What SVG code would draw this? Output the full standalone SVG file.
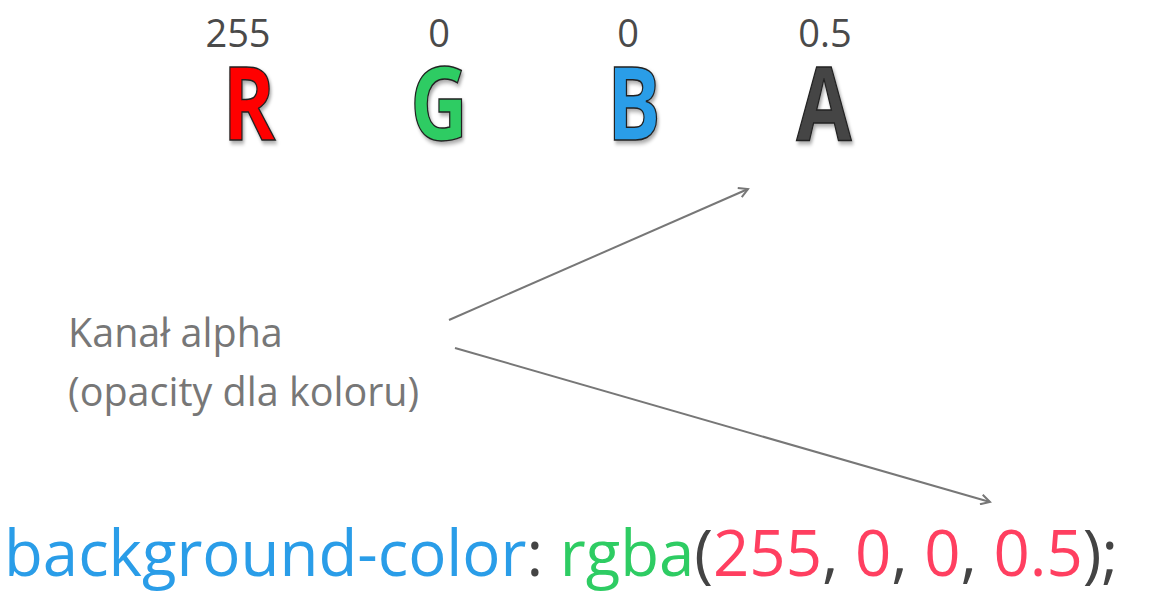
<svg xmlns="http://www.w3.org/2000/svg" width="1152" height="595" viewBox="0 0 1152 595">
<defs>
<style>
.num{font-family:"Open Sans","Noto Sans",sans-serif;font-size:38px;fill:#4a4a4a;text-anchor:middle}
.big{font-family:"Open Sans","Noto Sans",sans-serif;font-weight:bold;font-size:102px;text-anchor:middle;stroke:#222;stroke-width:1.5px;filter:url(#sh)}
.lbl{font-family:"Open Sans","Noto Sans",sans-serif;font-size:39.5px;fill:#777}
.code{font-family:"Open Sans","Noto Sans",sans-serif;font-size:63.5px}
.conn{stroke:#777;stroke-width:2;fill:none;marker-end:url(#ah)}
</style>
<filter id="sh" x="-20%" y="-20%" width="150%" height="150%">
<feDropShadow dx="2" dy="3" stdDeviation="2" flood-color="#000" flood-opacity="0.35"/>
</filter>
<marker id="ah" viewBox="0 0 12 12" refX="10" refY="6" markerWidth="12" markerHeight="12" markerUnits="userSpaceOnUse" orient="auto">
<path d="M1,1 L10,6 L1,11" fill="none" stroke="#777" stroke-width="2"/>
</marker>
</defs>
<rect width="1152" height="595" fill="#fff"/>
<g id="channel-r">
<text class="num" x="238" y="47">255</text>
<text class="big" transform="translate(249,140) scale(0.78,1)" fill="#ff0000">R</text>
</g>
<g id="channel-g">
<text class="num" x="439" y="47">0</text>
<text class="big" transform="translate(439,140) scale(0.78,1)" fill="#2ecc63">G</text>
</g>
<g id="channel-b">
<text class="num" x="628" y="47">0</text>
<text class="big" transform="translate(634,140) scale(0.78,1)" fill="#2a9de8">B</text>
</g>
<g id="channel-a">
<text class="num" x="825" y="47">0.5</text>
<text class="big" transform="translate(824,140) scale(0.78,1)" fill="#444444">A</text>
</g>
<g id="label">
<text class="lbl" x="68" y="347">Kanał alpha</text>
<text class="lbl" x="68" y="406">(opacity dla koloru)</text>
</g>
<g id="connectors">
<line class="conn" x1="449" y1="320" x2="748" y2="189"/>
<line class="conn" x1="455" y1="348" x2="990" y2="502"/>
</g>
<g id="code">
<text class="code" x="4" y="576"><tspan fill="#2a9de8">background-color</tspan><tspan fill="#444">: </tspan><tspan fill="#2ecc63">rgba</tspan><tspan fill="#444">(</tspan><tspan fill="#ff3f60">255</tspan><tspan fill="#444">, </tspan><tspan fill="#ff3f60">0</tspan><tspan fill="#444">, </tspan><tspan fill="#ff3f60">0</tspan><tspan fill="#444">, </tspan><tspan fill="#ff3f60">0.5</tspan><tspan fill="#444">);</tspan></text>
</g>
</svg>
